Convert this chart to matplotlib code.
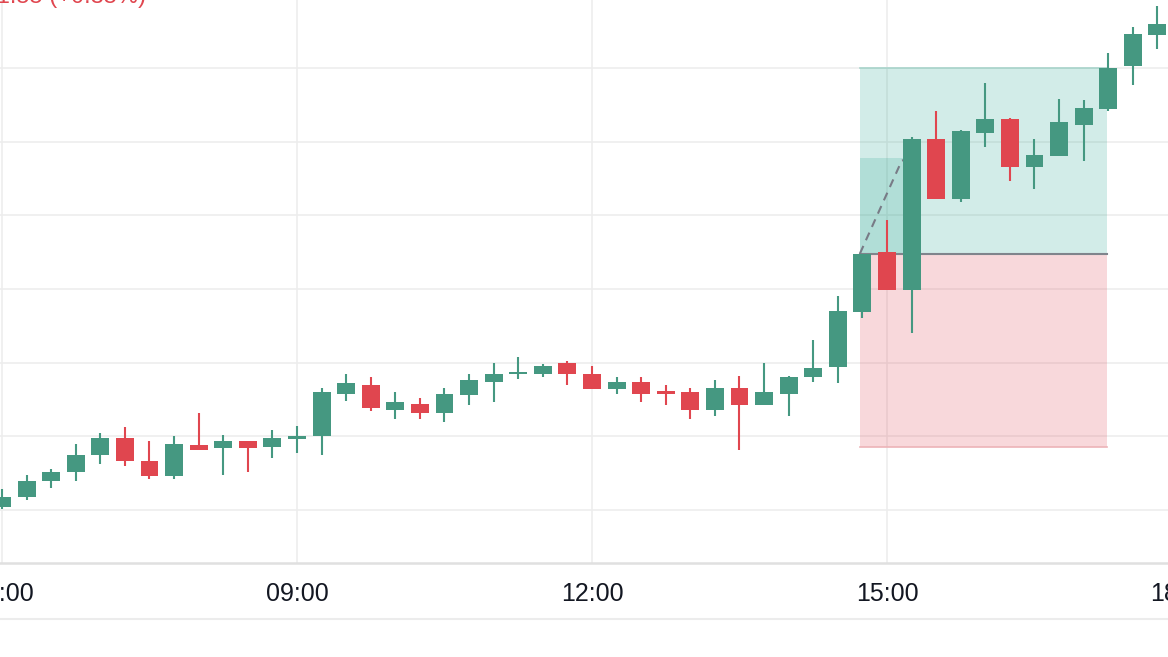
import numpy as np
import matplotlib
matplotlib.use("Agg")
import matplotlib.pyplot as plt
from matplotlib.lines import Line2D

# --------------------------------------------------
# data: 15-minute candles starting at 06:00
# --------------------------------------------------
opens = [100.02, 100.09, 100.20, 100.26, 100.37, 100.49, 100.33, 100.23, 100.44, 100.42,
         100.47, 100.43, 100.48, 100.50, 100.79, 100.85, 100.68, 100.72, 100.66, 100.78,
         100.87, 100.92, 100.92, 101.00, 100.92, 100.82, 100.87, 100.80, 100.80, 100.68,
         100.83, 100.71, 100.79, 100.90, 100.97, 101.34, 101.75, 101.49, 102.52, 102.11,
         102.56, 102.65, 102.33, 102.40, 102.61, 102.72, 103.01, 103.22]
highs = [100.14, 100.24, 100.28, 100.45, 100.52, 100.56, 100.47, 100.50, 100.66, 100.51,
         100.47, 100.54, 100.57, 100.83, 100.92, 100.90, 100.80, 100.76, 100.83, 100.92,
         101.00, 101.04, 100.99, 101.01, 100.98, 100.90, 100.90, 100.85, 100.83, 100.88,
         100.91, 101.00, 100.91, 101.15, 101.45, 101.74, 101.97, 102.53, 102.71, 102.58,
         102.90, 102.66, 102.52, 102.79, 102.78, 103.10, 103.28, 103.42]
lows = [100.01, 100.07, 100.15, 100.20, 100.31, 100.30, 100.21, 100.21, 100.41, 100.24,
        100.26, 100.35, 100.39, 100.37, 100.74, 100.67, 100.62, 100.62, 100.60, 100.71,
        100.73, 100.89, 100.90, 100.85, 100.82, 100.79, 100.73, 100.71, 100.62, 100.64,
        100.41, 100.71, 100.64, 100.87, 100.86, 101.30, 101.49, 101.20, 102.11, 102.09,
        102.46, 102.23, 102.18, 102.40, 102.37, 102.71, 102.88, 103.13]
closes = [100.09, 100.20, 100.26, 100.37, 100.49, 100.33, 100.23, 100.45, 100.41, 100.47,
          100.42, 100.49, 100.50, 100.80, 100.86, 100.69, 100.73, 100.66, 100.79, 100.88,
          100.92, 100.93, 100.98, 100.92, 100.82, 100.87, 100.79, 100.79, 100.68, 100.83,
          100.71, 100.80, 100.90, 100.96, 101.35, 101.74, 101.49, 102.52, 102.11, 102.57,
          102.65, 102.33, 102.41, 102.63, 102.73, 103.00, 103.23, 103.30]

time_labels = ["06:00", "09:00", "12:00", "15:00", "18:00"]
time_ticks = [0, 12, 24, 36, 48]

# long position tool
pos_start, pos_end = 34.9, 44.95
entry_price = 101.74
target_price = 103.00
stop_price = 100.43
live_end = 37
live_price = 102.39

price_grid = [100.0, 100.5, 101.0, 101.5, 102.0, 102.5, 103.0]

UP = "#459881"
DOWN = "#e0464f"

# --------------------------------------------------
# plot
# --------------------------------------------------
plt.rcParams["font.family"] = ["Liberation Sans", "DejaVu Sans"]

W, H = 1168, 657
px_per_bar = 24.583
fig = plt.figure(figsize=(W / 100, H / 100), dpi=100)
# axes runs a little past the right edge so the 18:00 tick still gets drawn (cut off)
ax = fig.add_axes([0, 94 / H, 1190 / W, 563 / H])

o = np.array(opens)
h = np.array(highs)
l = np.array(lows)
c = np.array(closes)
x = np.arange(len(o))
colors = [UP if cc >= oo else DOWN for oo, cc in zip(o, c)]

# position boxes
ax.fill_between([pos_start, pos_end], entry_price, target_price, color="#089981", alpha=0.18, lw=0, zorder=1)
ax.fill_between([pos_start, pos_end], stop_price, entry_price, color="#dc3c4b", alpha=0.2, lw=0, zorder=1)
ax.fill_between([pos_start, live_end], entry_price, live_price, color="#089981", alpha=0.16, lw=0, zorder=1)
ax.plot([pos_start, pos_end], [target_price, target_price], color="#a9d4cb", lw=1.2, zorder=1.5)
ax.plot([pos_start, pos_end], [stop_price, stop_price], color="#ecb3b7", lw=1.2, zorder=1.5)
ax.plot([pos_start, pos_end], [entry_price, entry_price], color="#80848c", lw=1.5, zorder=1.6)
ax.plot([pos_start, 36.6, live_end], [entry_price, live_price - 0.02, live_price], color="#787b86",
        lw=1.5, ls=(0, (4, 3)), zorder=1.7)

# candles
ax.vlines(x, l, h, colors=colors, lw=1.5, zorder=2)
body_h = np.maximum(np.abs(c - o), 0.018)
ax.bar(x, body_h, bottom=np.minimum(o, c), width=0.73, color=colors, lw=0, zorder=3)

ax.set_xticks(time_ticks)
ax.set_xticklabels(time_labels)
ax.set_yticks(price_grid)
ax.set_xlim(-2 / px_per_bar, 1188 / px_per_bar)
ax.set_ylim(100 - 53 / 147.4, 100 + 510 / 147.4)
ax.tick_params(axis="x", length=0, pad=14, labelsize=18, labelcolor="#131722")
ax.tick_params(axis="y", length=0, labelleft=False)
ax.grid(True, color="#ededed", lw=1.2, zorder=0)
ax.set_axisbelow(True)
for side in ["top", "left", "right"]:
    ax.spines[side].set_visible(False)
ax.spines["bottom"].set_color("#e0e0e0")
ax.spines["bottom"].set_linewidth(1.8)

fig.add_artist(Line2D([0, 1], [1 - 619 / H, 1 - 619 / H], color="#ececec", lw=1.5))

# header text, cut off at the top edge
fig.text(146 / W, 1 - 3 / H, "+1.55 (+0.35%)", color=DOWN, fontsize=17, ha="right", va="baseline")

fig.savefig("out.png", dpi=100)
